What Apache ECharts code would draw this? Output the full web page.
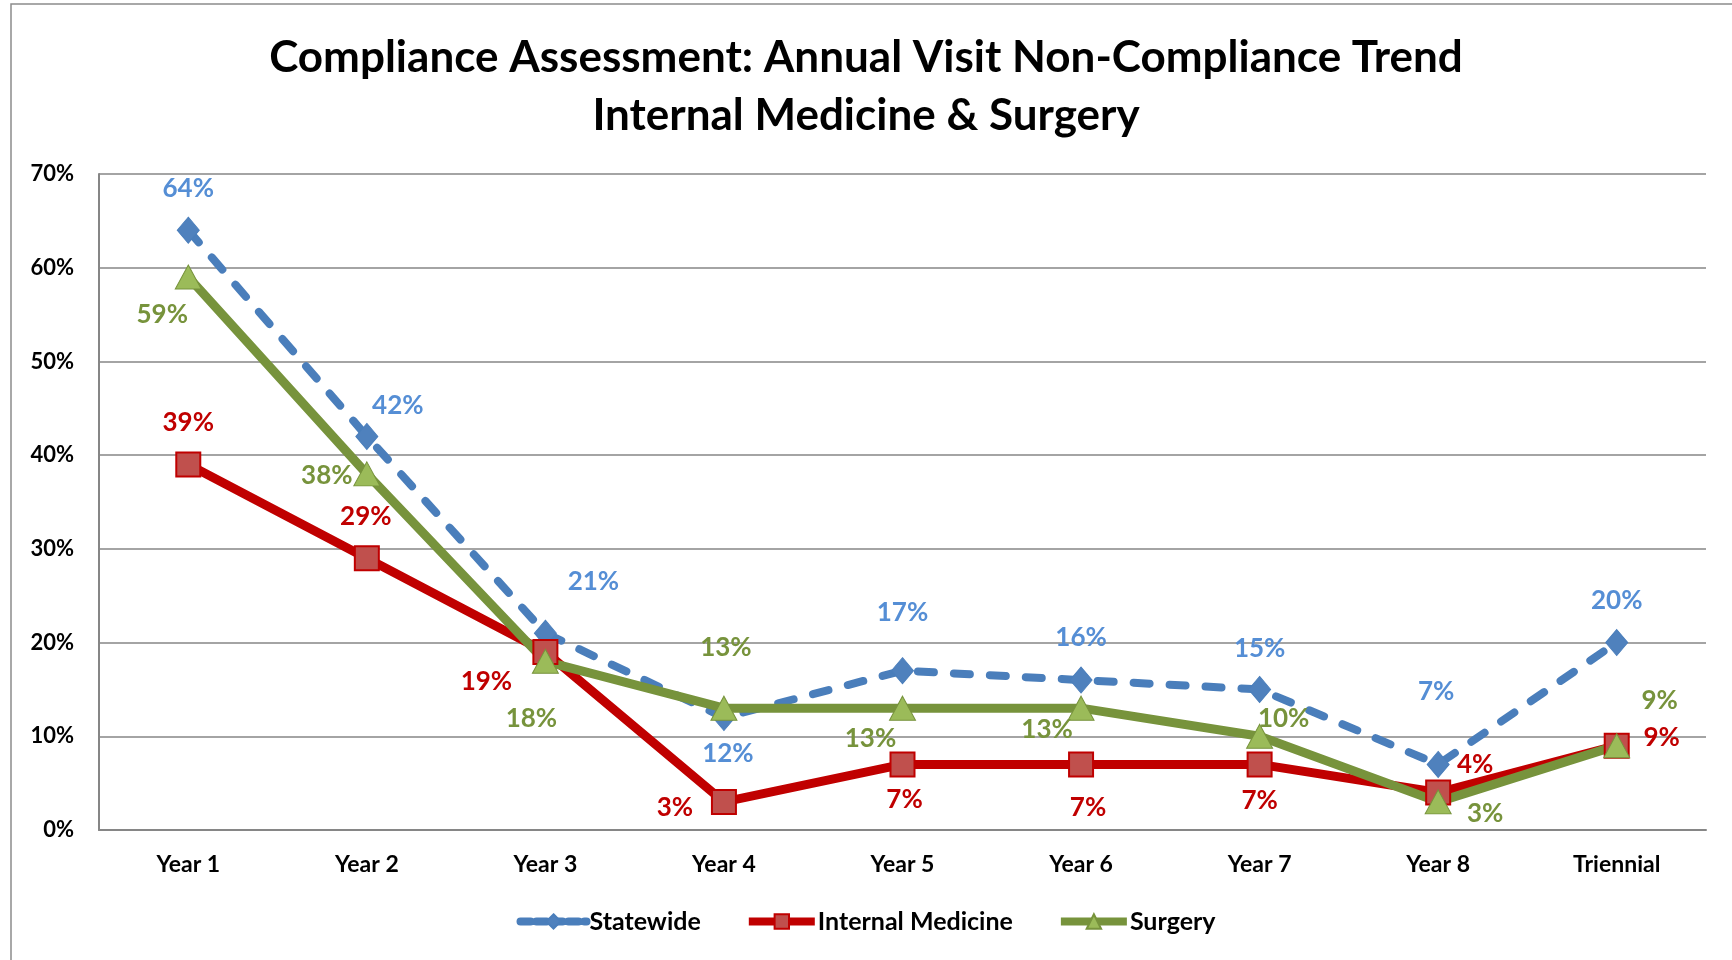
<!DOCTYPE html>
<html>
<head>
<meta charset="utf-8">
<script src="https://cdn.jsdelivr.net/npm/echarts@6/dist/echarts.min.js"></script>
<style>
  html, body { margin: 0; padding: 0; background: #fff; }
  #main { width: 1732px; height: 960px; }
</style>
</head>
<body>
<div id="main"></div>
<script>
var categories = ['Year 1', 'Year 2', 'Year 3', 'Year 4', 'Year 5', 'Year 6', 'Year 7', 'Year 8', 'Triennial'];
var statewide = [64, 42, 21, 12, 17, 16, 15, 7, 20];
var internalMedicine = [39, 29, 19, 3, 7, 7, 7, 4, 9];
var surgery = [59, 38, 18, 13, 13, 13, 10, 3, 9];

// label placement (px offset of the label from its point)
var stateOffsets = [[0, -42], [31, -31], [48, -52], [4, 36], [0, -58], [0, -42], [0, -41], [-2, -73], [0, -42]];
var imOffsets = [[0, -42], [-1, -42], [-59, 30], [-49, 6], [2, 35], [7, 43], [0, 36], [37, -28], [45, -8]];
var surgOffsets = [[-26, 38], [-40, 2], [-14, 57], [2, -61], [-32, 30], [-34, 21], [24, -18], [47, 12], [43, -45]];

var font = 'Lato, "Open Sans", sans-serif';

function withLabels(values, offsets, color) {
  return values.map(function (v, i) {
    return {
      value: v,
      label: {
        show: true,
        position: 'inside',
        offset: offsets[i],
        formatter: '{c}%',
        color: color,
        fontSize: 26,
        fontWeight: 'bold',
        fontFamily: font
      }
    };
  });
}

var chart = echarts.init(document.getElementById('main'));

var option = {
  backgroundColor: '#ffffff',
  animation: false,
  title: {
    text: 'Compliance Assessment: Annual Visit Non-Compliance Trend\nInternal Medicine & Surgery',
    left: 'center',
    top: 24,
    textStyle: {
      fontSize: 44,
      fontWeight: 'bold',
      fontFamily: font,
      color: '#000',
      lineHeight: 58
    }
  },
  graphic: [{
    type: 'rect',
    shape: { x: 11, y: 4, width: 1800, height: 1000 },
    style: { fill: 'none', stroke: '#8c8c8c', lineWidth: 1.5 },
    silent: true
  }],
  legend: {
    left: 'center',
    top: 904,
    itemWidth: 66,
    itemHeight: 18,
    itemGap: 44,
    textStyle: { fontSize: 25, fontWeight: 'bold', fontFamily: font, color: '#000', padding: [0, 0, 0, -2] },
    data: [
      { name: 'Statewide', lineStyle: { width: 8, type: [10, 6], cap: 'round' } },
      { name: 'Internal Medicine', lineStyle: { width: 8 } },
      { name: 'Surgery', lineStyle: { width: 8 } }
    ]
  },
  grid: { left: 99, right: 26, top: 174, bottom: 130 },
  xAxis: {
    type: 'category',
    data: categories,
    boundaryGap: true,
    axisLine: { lineStyle: { color: '#868686', width: 2 } },
    axisTick: { show: false },
    axisLabel: { fontSize: 23, fontWeight: 'bold', fontFamily: font, color: '#000', margin: 23 }
  },
  yAxis: {
    type: 'value',
    min: 0,
    max: 70,
    interval: 10,
    axisLine: { show: true, lineStyle: { color: '#868686', width: 2 } },
    axisTick: { show: false },
    splitLine: { lineStyle: { color: '#868686', width: 1.5 } },
    axisLabel: { formatter: '{value}%', fontSize: 22, fontWeight: 'bold', fontFamily: font, color: '#000', margin: 25 }
  },
  series: [
    {
      name: 'Statewide',
      type: 'line',
      data: withLabels(statewide, stateOffsets, '#558ED5'),
      symbol: 'diamond',
      symbolSize: [22, 26],
      itemStyle: { color: '#4F81BD', borderColor: '#4A7EBB', borderWidth: 1 },
      lineStyle: { color: '#4A7EBB', width: 8, type: [16, 20], cap: 'round' }
    },
    {
      name: 'Internal Medicine',
      type: 'line',
      data: withLabels(internalMedicine, imOffsets, '#C00000'),
      symbol: 'rect',
      symbolSize: 24,
      itemStyle: { color: '#C0504D', borderColor: '#C00000', borderWidth: 2 },
      lineStyle: { color: '#C00000', width: 9 }
    },
    {
      name: 'Surgery',
      type: 'line',
      data: withLabels(surgery, surgOffsets, '#77933C'),
      symbol: 'triangle',
      symbolSize: [26, 24],
      itemStyle: { color: '#9BBB59', borderColor: '#77933C', borderWidth: 1 },
      lineStyle: { color: '#77933C', width: 9 }
    }
  ]
};

chart.setOption(option);
</script>
</body>
</html>
